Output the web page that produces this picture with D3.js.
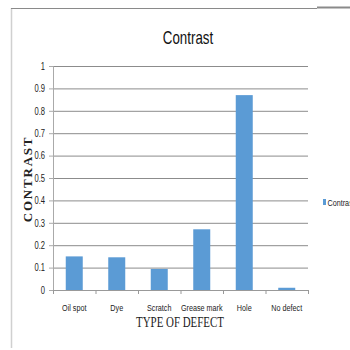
<!DOCTYPE html>
<html>
<head>
<meta charset="utf-8">
<script src="https://cdn.jsdelivr.net/npm/d3@7/dist/d3.min.js"></script>
<style>
  body { margin: 0; background: #fff; }
  svg { display: block; }
</style>
</head>
<body>
<svg id="chart" width="350" height="350"></svg>
<script>
// chart data
const categories = ['Oil spot', 'Dye', 'Scratch', 'Grease mark', 'Hole', 'No defect']
const contrast = [0.15, 0.146, 0.094, 0.271, 0.87, 0.01]
const yTicks = [0, 0.1, 0.2, 0.3, 0.4, 0.5, 0.6, 0.7, 0.8, 0.9, 1]

const margin = { top: 66, right: 42, bottom: 60, left: 53 }
const width = 350 - margin.left - margin.right
const height = 350 - margin.top - margin.bottom
const sans = '"Liberation Sans", Arial, sans-serif'
const serif = '"Liberation Serif", "DejaVu Serif", serif'
const squeeze = 0.76 // narrow look, like Calibri

const root = d3.select('#chart')

// frame lines round the chart
root.append('line').attr('x1', 11.5).attr('x2', 11.5).attr('y1', 8).attr('y2', 348)
    .attr('stroke', '#d0d0d0').attr('stroke-width', 1.5)
root.append('line').attr('x1', 11).attr('x2', 317).attr('y1', 8.5).attr('y2', 8.5)
    .attr('stroke', '#8a8a8a').attr('stroke-width', 1)
root.append('line').attr('x1', 317).attr('x2', 350).attr('y1', 7.5).attr('y2', 7.5)
    .attr('stroke', '#8a8a8a').attr('stroke-width', 2)

const svg = root.append('g')
    .attr('transform', `translate(${margin.left}, ${margin.top})`)

const x = d3.scaleBand().domain(categories).range([0, width]).paddingInner(0.6).paddingOuter(0.3)
const xEdge = d3.scaleLinear().domain([0, categories.length]).range([0, width])
const y = d3.scaleLinear().domain([0, 1]).range([height, 0])

// gridlines
svg.selectAll('.grid')
    .data(yTicks.filter(d => d > 0))
    .join('line')
    .attr('class', 'grid')
    .attr('x1', 0).attr('x2', width)
    .attr('y1', d => y(d) + 0.5).attr('y2', d => y(d) + 0.5)
    .attr('stroke', '#8c8c8c').attr('stroke-width', 1)

// y axis
const yAxis = svg.append('g')
    .call(d3.axisLeft(y).tickValues(yTicks).tickFormat(d3.format('~g')).tickSize(4).tickPadding(3))
yAxis.select('.domain').attr('stroke', '#aaa')
yAxis.selectAll('line').attr('stroke', '#aaa')
yAxis.selectAll('text')
    .attr('x', -8 / squeeze)
    .attr('transform', `scale(${squeeze}, 1)`)
    .attr('font-family', sans).attr('font-size', '10px').attr('fill', '#222')

// bars
svg.selectAll('.bar')
    .data(contrast)
    .join('rect')
    .attr('class', 'bar')
    .attr('x', (d, i) => x(categories[i]))
    .attr('width', x.bandwidth())
    .attr('y', d => y(d))
    .attr('height', d => height - y(d))
    .attr('fill', '#5b9bd5')

// x axis
const xAxis = svg.append('g')
    .attr('transform', `translate(0, ${height})`)
    .call(d3.axisBottom(xEdge).ticks(categories.length).tickFormat('').tickSize(4))
xAxis.select('.domain').attr('stroke', '#999')
xAxis.selectAll('line').attr('stroke', '#999')

svg.append('g')
    .selectAll('text')
    .data(categories)
    .join('text')
    .attr('transform', d => `translate(${x(d) + x.bandwidth() / 2}, ${height + 21}) scale(${squeeze}, 1)`)
    .attr('text-anchor', 'middle')
    .attr('font-family', sans)
    .attr('font-size', '9.5px')
    .attr('fill', '#222')
    .text(d => d)

// titles
root.append('text')
    .attr('transform', `translate(188, 44) scale(0.74, 1)`)
    .attr('text-anchor', 'middle')
    .attr('font-family', sans)
    .attr('font-size', '18px')
    .attr('fill', '#111')
    .text('Contrast')

root.append('text')
    .attr('transform', `translate(32, ${margin.top + height / 2 + 1}) rotate(-90)`)
    .attr('text-anchor', 'middle')
    .attr('font-family', serif)
    .attr('font-weight', 'bold')
    .attr('font-size', '13px')
    .attr('letter-spacing', '1.8px')
    .attr('fill', '#222')
    .text('CONTRAST')

root.append('text')
    .attr('transform', 'translate(180, 327) scale(0.78, 1)')
    .attr('text-anchor', 'middle')
    .attr('font-family', serif)
    .attr('font-size', '14px')
    .attr('fill', '#222')
    .text('TYPE  OF DEFECT')

// legend
const legend = root.append('g').attr('transform', 'translate(323, 199)')
legend.append('rect').attr('width', 3).attr('height', 6).attr('fill', '#5b9bd5')
legend.append('text')
    .attr('transform', `translate(4.5, 6.5) scale(${squeeze}, 1)`)
    .attr('font-family', sans)
    .attr('font-size', '9.5px')
    .attr('fill', '#222')
    .text('Contrast')
</script>
</body>
</html>
